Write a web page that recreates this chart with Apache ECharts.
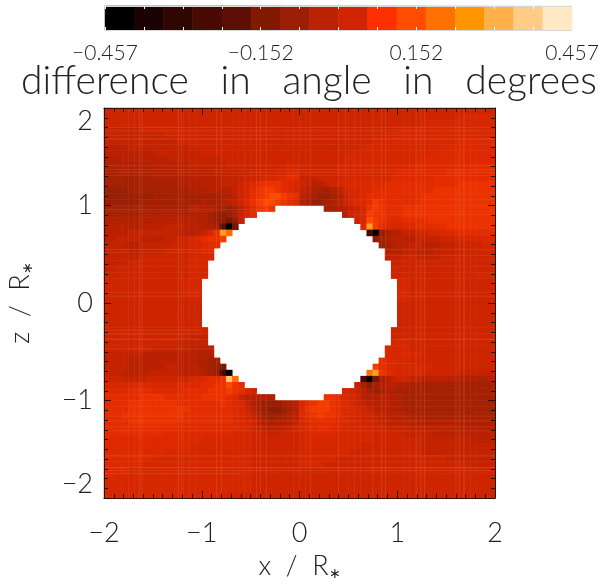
<!DOCTYPE html>
<html>
<head>
<meta charset="utf-8">
<style>html,body{margin:0;padding:0;background:#fff}#c{width:600px;height:584px}</style>
<script src="https://cdn.jsdelivr.net/npm/echarts@6/dist/echarts.min.js"></script>
</head>
<body>
<div id="c"></div>
<script>
// Level code -> difference in degrees
const levelValues = {'0':-0.457,'1':-0.40,'2':-0.34,'3':-0.28,'4':-0.22,'5':-0.17,'6':-0.12,'7':-0.095,'8':-0.07,'9':-0.05,
  a:-0.035,b:-0.015,c:0.005,d:0.02,e:0.04,f:0.065,g:0.095,h:0.12,i:0.155,j:0.22,k:0.30,l:0.38,m:0.457};
// Field rows, top (z=+2) to bottom (z=-2). "left|right", run-length coded; the gap between is the empty disc.
const fieldRows = [
"c*32|c*32","c*32|c*26 d*6","c*32|c*20 d*12","b*6 c*26|c*16 d*16","b*10 c*22|c*14 d*18","b*12 c*20|c*12 d*14 e*6",
"a*4 b*10 c*18|c*10 d*14 e*8","a*8 b*8 c*16|c*8 d*14 e*10","9*3 a*8 b*8 c*13|c*7 d*13 e*12","9*8 a*6 b*6 c*10 d*2|c*6 d*12 e*10 f*4",
"8*2 9*10 a*6 b*6 c*4 d*2 e*2|c*6 d*10 e*8 f*8","8*8 9*6 a*5 b*4 c*3 d*2 e*2 f*2|b*3 c*4 d*8 e*7 f*10",
"8*12 9*4 a*3 b*3 cdefgggfed|cbaabcdd e*6 f*12 g*6",
"7*4 8*10 9*3 a*2 9ab cdfghhgfed|ba9889ac ddeeff f*8 g*10",
"7*8 8*11 99a cdfghiihgf|a987789b ddefff f*6 g*12",
"7*6 8*10 988 9ab ceghiihgfe|98778 9ab deefhgff f*4 g*12",
"8*14 a a 9 9 8 8 7 8 a c e g h g|889abcdg hgf ff g*15",
"8*6 9*6 99 9998 767 9bdf|9bcdh ggf ff g*15",
"9*8 a*4 aa a998 7656 b|cd i hgf ee f*4 g*11",
"aaaa 99 aaaa bbb aaa99 8 4 0 5|e k h f e d d e e f*5 g*8",
"a*4 b*8 a a9 a b d g k j|3 0 6 8 9 a b b c c d d e e e f*6",
"aa b*4 a*4 bbcc d e f g g h|6 8 9 a a aa bbb b ccc dddd ee",
"b*3 a*3 b*5 c*3 ddeff|789aabb aaa bbb cccc dd",
"b*4 a*2 b*4 c*4 ddee|9aabb aaa bbbb c*6",
"b*6 c*8 d*4|abbcc b*4 c*9",
"b*4 c*10 d*3|b c*16","b*2 c*12 d*3|c*17","c*14 d*3|c*14 d*3","c*13 d*3|d*2 c*14","c*13 d*3|d*2 c*14","c*13 d*3|d*2 c*14","c*16|d*2 c*14",
"c*16|c*16","c*16|c*16","c*16|c*16","c*16|c*16","c*17|c*17","c*14 b*3|c*17","c*12 b*5|d*3 c*14","c*8 b*6 a*4|d*4 c*14",
"b*6 a*9 9*3|dddedd c*12",
"b*4 a*4 a*6 a 9 9 8 8|feedd c*14",
"b*4 a*6 b b a a a a 9 8 7 5|h f e d*7 c*10",
"c bb aaaa bbb b b a a a a 9 8 7 3 0|j k g f e d*4 c*6 b*6",
"ccc bbbb ccc cccc d d e f f g l j|3 0 5 8 a b c c b b a*6 9*5 a",
"d*4 e*4 d*2 d d e e e e f f g g i g f|b 8 6 8 9 a a 9 9 8*14",
"e*4 f*4 e*3 e e f f f f g g g h g f d c|d c b a 8 7 8 9 9 8*16",
"f*6 g*4 f*2 f*4 g*3 g f e b a a 9 9 9|g g f e d c a 9 9 a a 9 9 8*15",
"f*4 g*8 f*5 f f g f e d b 9 8 7 7 7 8 9 a|d f g h h g f e d c b a a a a 9 9 8*15",
"f*4 g*10 f*7 e d c a 8 7 6 6 7 8 9|e g h h h g f e e d c b a a a 9 9 8*15",
"f*3 g*10 f*8 e d c b 9 7 7 7 8 9 a|e f g h g g f e d d c c b b a a 9 9 8*14",
"f*4 g*8 f*9 e e d c a 9 8 9 9 a b|d e f f f f e e d d c c c b b a a a a 9*13",
"f*12 e*8 e e d d c b a a a a b c|d e e f f e e d d d d c c c b b b b a*8 9*6",
"f*10 e*10 e d d d c c b b b c c c|d d e e e e d d d*4 c*5 b*5 a*10",
"e*16 d*8 c*8|d*12 c*8 b*8 a*4","e*14 d*10 c*8|d*10 c*10 b*12","e*10 d*14 c*8|d*8 c*12 b*12","e*8 d*16 c*8|d*6 c*18 b*8",
"e*6 d*18 c*8|d*4 c*24 b*4","e*4 d*20 c*8|c*32","e*2 d*22 c*8|c*32","d*24 c*8|c*32","d*24 c*8|c*32","d*20 c*12|c*32"
];
// Colour bar
const barColors = ['#000000','#1a0302','#2e0602','#4a0a04','#5e0f05','#821a02','#9a1f05','#b92203','#d02503','#ff3000','#ff4d00','#ff7000','#ff9500','#ffb04a','#ffcb85','#ffe8c4'];
const barValues = [-0.428,-0.371,-0.314,-0.257,-0.200,-0.143,-0.086,-0.029,0.029,0.086,0.143,0.200,0.257,0.314,0.371,0.428];
const barTickLabels = ['\u22120.457','','','','\u22120.152','','','','0.152','','','','0.457'];
// Colours the field is read through (same span as the bar, softer around its middle)
const fieldColors = ['#000000','#1a0302','#2e0602','#4a0a04','#5e0f05','#821a02','#9a1f05','#bd2102','#da2800','#ea3000','#fa4a04','#ff6a00','#ff9000','#ffb04a','#ffcb85','#ffe8c4'];
// Axis ticks
const axisTickLabels = {'-2':'\u22122','-1':'\u22121','0':'0','1':'1','2':'2'};
// Faint streaks: [z, x from, x to] and [x, z from, z to]
const hStreaks = [[1.80,-2,2],[1.77,-2,2],[1.72,-2,2],[1.68,-2,2],[1.41,-2,2],[1.37,-2,2],[1.34,-2,2],[1.31,-2,2],[0.96,-2,-0.3],[0.91,0.5,2],[0.55,-2,-0.85],[0.55,0.85,2],[0.52,-2,-0.85],[0.49,0.88,2],[0.11,-2,-1],[0.07,-2,-1],[0.11,1,2],[0.07,1,2],
 [-0.28,-2,-1],[-0.32,-2,-1],[-0.37,-2,-1],[-0.47,-2,-0.88],[-0.37,1,2],[-1.16,-2,2],[-1.21,-2,2],[-1.27,-2,2],[-1.31,-2,2],[-1.57,-2,2],[-1.69,-2,2],[-1.72,-2,2],[-1.75,-2,-0.6],[-0.62,0.85,1.2]];
const vStreaks = [[-1.64,-2,2],[-1.61,-2,2],[-1.24,-2,2],[-1.21,-2,2],[-0.85,-2,-0.53],[-0.85,0.53,2],[-0.80,-2,-0.6],[-0.80,0.6,2],[-0.44,-2,-0.9],[-0.44,0.9,2],[-0.40,-2,-0.92],[-0.40,0.92,2],[-0.34,-2,-0.94],[-0.34,0.94,2],[0.11,1,2],[0.11,-2,-1],[0.40,1,2],[0.40,-2,-0.92],[0.47,1,2],[0.75,0.7,2],[0.75,-2,-0.7],[0.84,0.55,2],[0.84,-2,-0.55],[0.88,-2,-0.48],[0.88,0.48,2],[1.20,-2,2],[1.24,-2,2],[1.28,-2,2],[1.60,-2,2],[1.64,-2,2],[1.68,-2,2]];

const N = fieldRows.length;
function decode(s){const o=[];s.replace(/(\S)(?:\*(\d+))?/g,(m,c,n)=>{for(let i=0;i<(n?+n:1);i++)o.push(levelValues[c]);return m;});return o;}
const fieldData = [];
fieldRows.forEach((row,j)=>{
  const parts = row.split('|'), left = decode(parts[0]), right = decode(parts[1]);
  left.forEach((v,i)=>fieldData.push([i,N-1-j,v]));
  right.forEach((v,i)=>fieldData.push([N-right.length+i,N-1-j,v]));
});
const cats = Array.from({length:N},(_,i)=>String(i));
const streakData = hStreaks.map(s=>[s[1],s[0],s[2],s[0]]).concat(vStreaks.map(s=>[s[0],s[1],s[0],s[2]]));
const barMin=-0.457, barMax=0.457, barStep=0.457/6;
const barPieces = barColors.map((c,i)=>({gte:barValues[i]-0.0286,lt:barValues[i]+0.0286,color:c}));

const FONT='Lato', INK='#222';
const frameAxis = (extra)=>Object.assign({type:'value',gridIndex:0,min:-2,max:2,interval:1,z:10,
  axisLine:{show:true,onZero:false,lineStyle:{color:'#3a1005',width:1}},
  axisTick:{show:true,inside:true,length:7,lineStyle:{color:'#2a0a04',width:1}},
  minorTick:{show:true,splitNumber:10,length:4,lineStyle:{color:'#2a0a04',width:1}},
  splitLine:{show:false},minorSplitLine:{show:false}},extra);
const numLabel = {show:true,fontFamily:FONT,fontWeight:300,fontSize:27,color:INK,formatter:v=>axisTickLabels[String(v)]};
const nameRich = {s:{fontFamily:FONT,fontWeight:300,fontSize:14,color:INK,verticalAlign:'bottom',padding:[12,0,0,0]}};
const nameStyle = {fontFamily:FONT,fontWeight:300,fontSize:27,color:INK,rich:nameRich};

const chart = echarts.init(document.getElementById('c'),null,{renderer:'canvas',width:600,height:584});
chart.setOption({
  animation:false,backgroundColor:'#fff',
  title:{text:'difference   in   angle   in   degrees',left:304,top:57,textAlign:'center',
    textStyle:{fontFamily:FONT,fontWeight:300,fontSize:39,color:INK}},
  grid:[{left:104,top:108,width:391,height:390,outerBoundsMode:'none'},{left:105,top:6,width:467,height:24,outerBoundsMode:'none'}],
  xAxis:[
    {type:'category',gridIndex:0,data:cats,show:false},
    frameAxis({position:'bottom',axisLabel:Object.assign({margin:22,alignMinLabel:'center',alignMaxLabel:'center'},numLabel),
      name:'x  /  R{s|\u2217}',nameLocation:'middle',nameGap:55,nameTextStyle:nameStyle}),
    frameAxis({position:'top',axisLabel:{show:false}}),
    {type:'category',gridIndex:1,data:barValues.map((_,i)=>String(i)),show:false},
    {type:'value',gridIndex:1,position:'bottom',min:barMin,max:barMax,interval:barStep,z:10,
      axisLine:{show:true,onZero:false,lineStyle:{color:'#d8d8d8',width:1}},
      axisTick:{show:true,inside:true,length:3,lineStyle:{color:'#fff',width:1}},
      splitLine:{show:false},
      axisLabel:{show:true,margin:13,fontFamily:FONT,fontWeight:300,fontSize:21,color:INK,showMinLabel:true,showMaxLabel:true,hideOverlap:false,
        alignMinLabel:'center',alignMaxLabel:'center',
        formatter:v=>barTickLabels[Math.round((v-barMin)/barStep)]||''}},
    {type:'value',gridIndex:1,position:'top',min:barMin,max:barMax,interval:barStep,z:10,
      axisLine:{show:true,onZero:false,lineStyle:{color:'#d8d8d8',width:1}},
      axisTick:{show:true,inside:true,length:3,lineStyle:{color:'#fff',width:1}},
      splitLine:{show:false},axisLabel:{show:false}}
  ],
  yAxis:[
    {type:'category',gridIndex:0,data:cats,show:false},
    frameAxis({position:'left',axisLabel:Object.assign({margin:11,verticalAlignMinLabel:'bottom',verticalAlignMaxLabel:'top'},numLabel),
      name:'z  /  R{s|\u2217}',nameLocation:'middle',nameGap:70,nameTextStyle:nameStyle}),
    frameAxis({position:'right',axisLabel:{show:false}}),
    {type:'category',gridIndex:1,data:['0'],show:false}
  ],
  visualMap:[
    {type:'continuous',show:false,seriesIndex:0,dimension:2,min:barMin,max:barMax,inRange:{color:fieldColors}},
    {type:'piecewise',show:false,seriesIndex:2,dimension:2,pieces:barPieces}
  ],
  series:[
    {type:'heatmap',xAxisIndex:0,yAxisIndex:0,data:fieldData,progressive:0,z:1,silent:true,emphasis:{disabled:true}},
    {type:'custom',xAxisIndex:1,yAxisIndex:1,data:streakData,z:2,silent:true,clip:true,
      encode:{x:[0,2],y:[1,3]},
      renderItem:(p,api)=>{
        const a=api.coord([api.value(0),api.value(1)]),b=api.coord([api.value(2),api.value(3)]);
        return {type:'line',shape:{x1:a[0],y1:a[1],x2:b[0],y2:b[1]},style:{stroke:'rgba(255,170,110,0.16)',lineWidth:1}};
      }},
    {type:'heatmap',xAxisIndex:3,yAxisIndex:3,data:barValues.map((v,i)=>[i,0,v]),progressive:0,z:1,silent:true,emphasis:{disabled:true}}
  ]
});
</script>
</body>
</html>
